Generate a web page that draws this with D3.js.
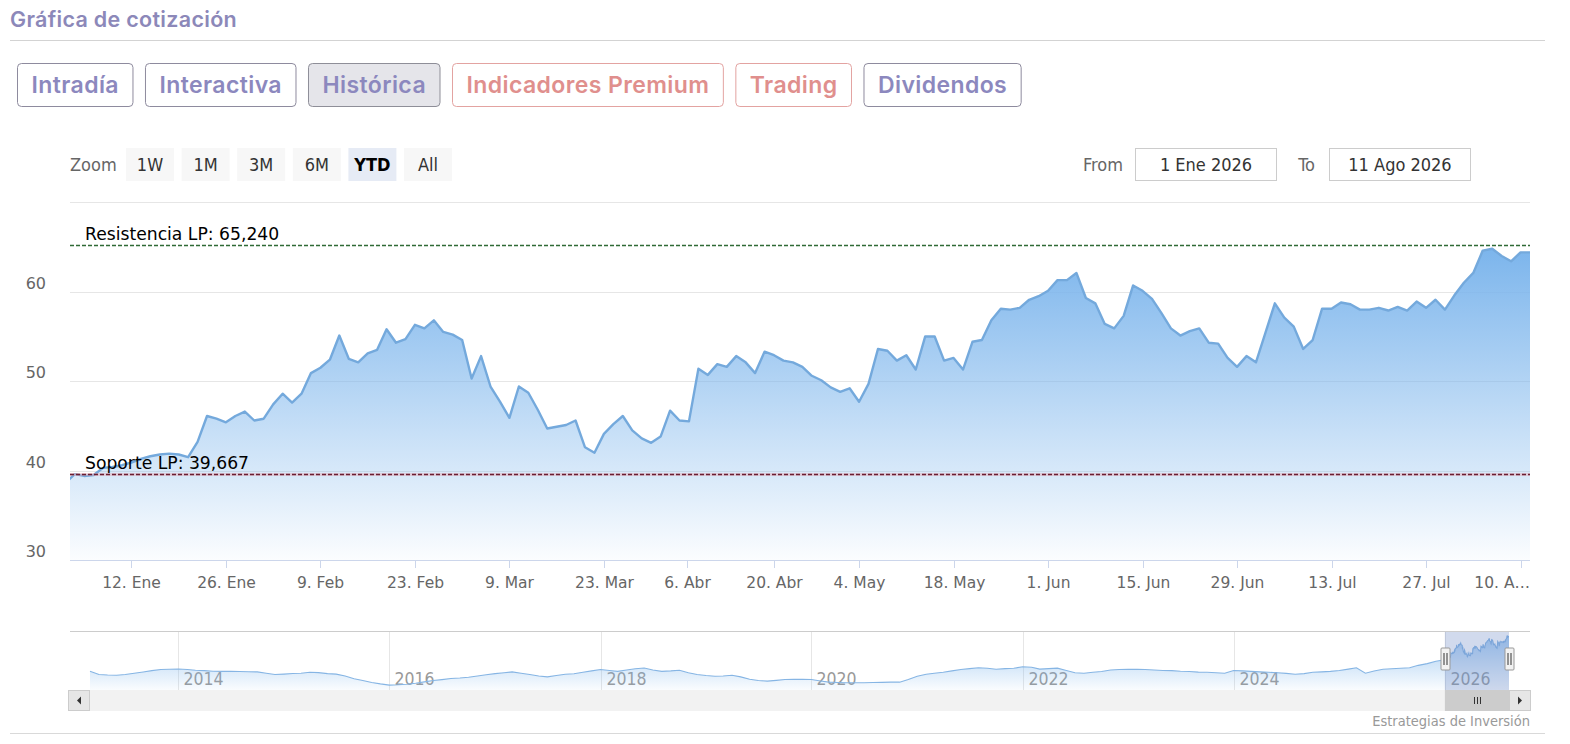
<!DOCTYPE html>
<html><head><meta charset="utf-8">
<script src="https://cdn.jsdelivr.net/npm/d3@7"></script>
<style>
body{margin:0;background:#fff;}
svg{display:block;}
</style></head><body>
<svg id="c" width="1570" height="744"></svg>
<script>
// ---------------- data ----------------
const pageTitle = "Gráfica de cotización";
const tabLabels = ["Intradía","Interactiva","Histórica","Indicadores Premium","Trading","Dividendos"];
const tabKinds  = ["main","main","active","premium","premium","main"];
const zoomButtons = ["1W","1M","3M","6M","YTD","All"];
const zoomSelected = "YTD";
const rangeFrom = "1 Ene 2026";
const rangeTo = "11 Ago 2026";

// trading calendar of the visible range
const firstDay = "2025-12-31";
const lastDay = "2026-08-11";
const rangeStart = "2026-01-01";
const holidays = ["2026-01-01","2026-04-03","2026-04-06","2026-05-01"];

// daily closes, 31 Dic 2025 .. 11 Ago 2026
const closes = [38.6,
 39.6,39.4,39.5,40.3,40.4,40.6,40.9,41.3,41.6,41.8,
 41.9,41.8,41.5,43.2,46.1,45.8,45.4,46.1,46.6,45.6,
 45.8,47.4,48.6,47.6,48.6,50.9,51.5,52.4,55.1,52.5,
 52.1,53.1,53.5,55.8,54.3,54.7,56.3,55.9,56.8,55.5,
 55.2,54.6,50.3,52.8,49.4,47.7,45.9,49.4,48.7,46.8,
 44.7,44.9,45.1,45.6,42.6,42.0,44.1,45.2,46.1,44.5,
 43.6,43.1,43.8,46.7,45.6,45.5,51.4,50.7,51.9,51.6,
 52.8,52.1,50.9,53.3,52.9,52.3,52.1,51.6,50.6,50.1,
 49.3,48.8,49.2,47.7,49.7,53.6,53.4,52.3,52.9,51.3,
 55.0,55.0,52.3,52.6,51.3,54.4,54.6,56.8,58.1,58.0,
 58.2,59.1,59.5,60.1,61.3,61.3,62.1,59.3,58.7,56.4,
 55.9,57.3,60.7,60.1,59.2,57.6,55.9,55.1,55.6,55.9,
 54.3,54.2,52.6,51.6,52.8,52.1,55.4,58.7,57.1,56.1,
 53.6,54.6,58.1,58.1,58.8,58.6,58.0,58.0,58.2,57.9,
 58.3,57.9,58.9,58.2,59.1,58.0,59.6,61.0,62.1,64.6,
 64.8,64.0,63.4,64.4,64.4];

const yTicks = [30,40,50,60,70];
const tickDates = ["2026-01-12","2026-01-26","2026-02-09","2026-02-23","2026-03-09","2026-03-23",
  "2026-04-06","2026-04-20","2026-05-04","2026-05-18","2026-06-01","2026-06-15","2026-06-29",
  "2026-07-13","2026-07-27","2026-08-10"];
const tickLabels = ["12. Ene","26. Ene","9. Feb","23. Feb","9. Mar","23. Mar","6. Abr","20. Abr",
  "4. May","18. May","1. Jun","15. Jun","29. Jun","13. Jul","27. Jul","10. A…"];

const levelNames = ["Resistencia LP","Soporte LP"];
const levelValues = [65.240, 39.667];
const levelColors = ["#2f6a35","#6a1f33"];

// navigator: monthly history Mar 2013 .. Dic 2025, then the daily closes above
const navHistoryStart = "2013-03-01";
const navHistory = [
 26.1,22.6,22.0,21.8,22.5,24.0,25.4,26.8,28.0,28.3,
 28.6,28.0,27.2,26.8,26.1,26.0,26.1,25.8,25.6,25.4,24.0,22.6,
 23.0,23.6,24.0,25.0,24.6,23.5,23.0,21.0,18.0,16.0,13.8,12.3,
 11.0,11.3,11.9,13.0,14.5,16.0,17.0,18.2,18.8,19.6,21.0,22.3,
 23.5,24.5,25.4,24.0,22.6,21.0,20.0,21.5,22.8,23.4,25.0,26.5,
 28.0,27.0,26.0,27.5,28.8,29.7,27.5,26.0,26.5,27.2,24.5,22.6,
 21.5,20.7,21.0,21.8,20.0,17.3,16.0,15.3,16.2,17.1,17.3,17.2,
 17.1,15.5,14.2,13.8,13.6,13.5,13.5,13.8,14.0,14.2,14.2,17.0,
 20.7,22.8,24.0,25.0,26.5,28.0,29.0,30.0,29.5,28.3,29.0,29.4,
 31.0,30.5,28.5,29.0,29.5,27.0,24.5,24.0,25.0,25.8,27.5,28.0,
 28.3,28.2,28.0,27.5,27.0,26.8,26.2,25.8,25.2,25.0,24.5,24.0,
 27.0,26.5,26.0,25.5,25.0,24.5,23.8,22.8,23.5,25.0,25.5,26.0,
 27.0,28.5,30.0,24.0,26.5,28.3,28.8,29.5,30.0,32.6,34.5,37.0];
const navYears = [2014,2016,2018,2020,2022,2024,2026];
const credit = "Estrategias de Inversión";

// ---------------- helpers ----------------
const parse = d3.utcParse("%Y-%m-%d");
const fmtKey = d3.utcFormat("%Y-%m-%d");
const holidaySet = new Set(holidays);
const tradingDays = d3.utcDays(parse(firstDay), d3.utcDay.offset(parse(lastDay), 1))
  .filter(d => d.getUTCDay() !== 0 && d.getUTCDay() !== 6 && !holidaySet.has(fmtKey(d)));
const series = tradingDays.map((d, i) => ({date: d, value: closes[i]}));
const times = tradingDays.map(d => +d);
function ordinal(date) {
  const t = +date;
  const i = d3.bisectRight(times, t);
  if (i <= 0) return 0;
  if (i >= times.length) return times.length - 1;
  const a = times[i-1], b = times[i];
  return (i - 1) + (t - a) / (b - a);
}
const esLocale = d3.formatLocale({decimal: ",", thousands: ".", grouping: [3], currency: ["", "€"]});
const fmtLevel = esLocale.format(".3f");

const CHART_FONT = "'DejaVu Sans', Verdana, sans-serif";
const COND_FONT = "'DejaVu Sans Condensed', 'DejaVu Sans', sans-serif";
const UI_FONT = "Inter, 'Open Sans', sans-serif";

const svg = d3.select("#c");
const defs = svg.append("defs");

// ---------------- header ----------------
svg.append("text").attr("x", 10).attr("y", 27)
  .attr("font-family", UI_FONT).attr("font-weight", 600).attr("font-size", 21.5)
  .attr("letter-spacing", 0.3).attr("fill", "#8c88b9").text(pageTitle);
svg.append("line").attr("x1", 10).attr("x2", 1545).attr("y1", 40.5).attr("y2", 40.5)
  .attr("stroke", "#d3d3d3");

const tabStyle = {
  main:    {fill: "#ffffff", stroke: "#8e8b9e", text: "#8c88be"},
  active:  {fill: "#e5e5ea", stroke: "#8e8e98", text: "#8c88be"},
  premium: {fill: "#ffffff", stroke: "#e3a3a1", text: "#e08f8d"}
};
let tx = 17.5;
tabLabels.forEach((lab, i) => {
  const st = tabStyle[tabKinds[i]];
  const g = svg.append("g");
  const rect = g.append("rect");
  const t = g.append("text").attr("font-family", UI_FONT).attr("font-weight", 600)
    .attr("font-size", 23).attr("letter-spacing", 0.4).attr("fill", st.text).attr("y", 93).text(lab);
  const w = t.node().getComputedTextLength() + 28;
  rect.attr("x", tx).attr("y", 63.5).attr("width", w).attr("height", 43).attr("rx", 4)
    .attr("fill", st.fill).attr("stroke", st.stroke);
  t.attr("x", tx + w / 2).attr("text-anchor", "middle");
  tx += w + 12.5;
});

// ---------------- range selector ----------------
svg.append("text").attr("x", 70).attr("y", 171).attr("font-family", COND_FONT)
  .attr("font-size", 18).attr("fill", "#666").text("Zoom");
zoomButtons.forEach((b, i) => {
  const x = 126 + i * 55.6;
  const sel = b === zoomSelected;
  svg.append("rect").attr("x", x).attr("y", 148).attr("width", 48).attr("height", 33)
    .attr("fill", sel ? "#e6ebf5" : "#f7f7f7");
  svg.append("text").attr("x", x + 24).attr("y", 171).attr("text-anchor", "middle")
    .attr("font-family", COND_FONT).attr("font-size", 18)
    .attr("font-weight", sel ? "bold" : "normal").attr("fill", sel ? "#000" : "#333").text(b);
});
[["From", rangeFrom, 1123, 1135.5], ["To", rangeTo, 1315, 1329.5]].forEach(([lab, val, lx, bx]) => {
  svg.append("text").attr("x", lx).attr("y", 171).attr("text-anchor", "end")
    .attr("font-family", COND_FONT).attr("font-size", 18).attr("fill", "#666").text(lab);
  svg.append("rect").attr("x", bx).attr("y", 148.5).attr("width", 141).attr("height", 32)
    .attr("fill", "#fff").attr("stroke", "#cccccc");
  svg.append("text").attr("x", bx + 70.5).attr("y", 171).attr("text-anchor", "middle")
    .attr("font-family", COND_FONT).attr("font-size", 18).attr("fill", "#333").text(val);
});

// ---------------- main chart ----------------
const plot = {left: 70, right: 1530, top: 202.3, bottom: 560};
const x = d3.scaleLinear().domain([ordinal(parse(rangeStart)), series.length - 1])
  .range([plot.left, plot.right]);
const y = d3.scaleLinear().domain([yTicks[0], yTicks[yTicks.length - 1]])
  .range([plot.bottom, plot.top]);

defs.append("clipPath").attr("id", "plotClip").append("rect")
  .attr("x", plot.left).attr("y", plot.top - 5).attr("width", plot.right - plot.left)
  .attr("height", plot.bottom - plot.top + 5);

// grid
svg.append("g").selectAll("line").data(yTicks.slice(1)).join("line")
  .attr("x1", plot.left).attr("x2", plot.right)
  .attr("y1", d => Math.round(y(d)) + 0.5).attr("y2", d => Math.round(y(d)) + 0.5)
  .attr("stroke", "#e6e6e6");

// area gradient
const maxY = y(d3.max(closes));
const grad = defs.append("linearGradient").attr("id", "areaGrad")
  .attr("gradientUnits", "userSpaceOnUse").attr("x1", 0).attr("x2", 0)
  .attr("y1", maxY).attr("y2", plot.bottom);
grad.append("stop").attr("offset", 0).attr("stop-color", "#7cb5ec").attr("stop-opacity", 1);
grad.append("stop").attr("offset", 1).attr("stop-color", "#7cb5ec").attr("stop-opacity", 0.03);

const gPlot = svg.append("g").attr("clip-path", "url(#plotClip)");
gPlot.append("path").datum(series)
  .attr("d", d3.area().x((d, i) => x(i)).y0(plot.bottom).y1(d => y(d.value)))
  .attr("fill", "url(#areaGrad)");
gPlot.append("path").datum(series)
  .attr("d", d3.line().x((d, i) => x(i)).y(d => y(d.value)))
  .attr("fill", "none").attr("stroke", "#74a9dc").attr("stroke-width", 2.4)
  .attr("stroke-linejoin", "round");

// x axis
svg.append("line").attr("x1", plot.left).attr("x2", plot.right)
  .attr("y1", plot.bottom + 0.5).attr("y2", plot.bottom + 0.5).attr("stroke", "#ccd6eb");
const xAxisG = svg.append("g");
tickDates.forEach((ds, i) => {
  const px = Math.round(x(ordinal(parse(ds)))) + 0.5;
  xAxisG.append("line").attr("x1", px).attr("x2", px).attr("y1", plot.bottom)
    .attr("y2", plot.bottom + 8).attr("stroke", "#ccd6eb");
  const t = xAxisG.append("text").attr("x", px).attr("y", 588).attr("text-anchor", "middle")
    .attr("font-family", CHART_FONT).attr("font-size", 15.5).attr("fill", "#666").text(tickLabels[i]);
  const w = t.node().getComputedTextLength();
  if (px + w / 2 > plot.right) t.attr("text-anchor", "end").attr("x", plot.right);
});

// y axis labels
svg.append("g").selectAll("text").data(yTicks.slice(0, -1)).join("text")
  .attr("x", 46).attr("y", d => y(d) - 3).attr("text-anchor", "end")
  .attr("font-family", CHART_FONT).attr("font-size", 16).attr("fill", "#666").text(d => d);

// plot lines (support / resistance)
levelValues.forEach((v, i) => {
  const py = Math.round(y(v)) + 0.5;
  if (i === 1) {
    svg.append("line").attr("x1", plot.left).attr("x2", plot.right).attr("y1", py).attr("y2", py)
      .attr("stroke", "#e7a3b0").attr("stroke-width", 3).attr("stroke-opacity", 0.45);
  }
  svg.append("line").attr("x1", plot.left).attr("x2", plot.right).attr("y1", py).attr("y2", py)
    .attr("stroke", levelColors[i]).attr("stroke-width", 1.4).attr("stroke-dasharray", "4,2");
  svg.append("text").attr("x", 85).attr("y", py - 5.5)
    .attr("font-family", CHART_FONT).attr("font-size", 17.2).attr("fill", "#000")
    .text(levelNames[i] + ": " + fmtLevel(v));
});

// ---------------- navigator ----------------
const nav = {left: 90, right: 1509, top: 631, bottom: 690};
const histDates = navHistory.map((v, i) => d3.utcMonth.offset(parse(navHistoryStart), i));
const navData = histDates.map((d, i) => ({date: d, value: navHistory[i]})).concat(series);
const nx = d3.scaleUtc().domain([parse(navHistoryStart), parse(lastDay)]).range([nav.left, nav.right]);
const nExt = d3.extent(navData, d => d.value);
const nPad = (nExt[1] - nExt[0]) * 0.1;
const ny = d3.scaleLinear().domain([nExt[0] - nPad, nExt[1] + nPad]).range([nav.bottom, nav.top]);

// year grid
navYears.forEach(yr => {
  const px = Math.round(nx(Date.UTC(yr, 0, 1))) + 0.5;
  svg.append("line").attr("x1", px).attr("x2", px).attr("y1", nav.top).attr("y2", nav.bottom)
    .attr("stroke", "#e6e6e6");
  svg.append("text").attr("x", px + 5).attr("y", 685).attr("font-family", COND_FONT)
    .attr("font-size", 17.5).attr("fill", "#999").text(yr);
});
const ngrad = defs.append("linearGradient").attr("id", "navGrad")
  .attr("gradientUnits", "userSpaceOnUse").attr("x1", 0).attr("x2", 0)
  .attr("y1", nav.top).attr("y2", nav.bottom);
ngrad.append("stop").attr("offset", 0).attr("stop-color", "#7cb5ec").attr("stop-opacity", 0.75);
ngrad.append("stop").attr("offset", 1).attr("stop-color", "#7cb5ec").attr("stop-opacity", 0.04);
svg.append("path").datum(navData)
  .attr("d", d3.area().x(d => nx(d.date)).y0(nav.bottom).y1(d => ny(d.value)))
  .attr("fill", "url(#navGrad)");
svg.append("path").datum(navData)
  .attr("d", d3.line().x(d => nx(d.date)).y(d => ny(d.value)))
  .attr("fill", "none").attr("stroke", "#86b5e4").attr("stroke-width", 1.1);

const selL = nx(parse(rangeStart)), selR = nx(parse(lastDay));
svg.append("rect").attr("x", selL).attr("y", nav.top).attr("width", selR - selL)
  .attr("height", nav.bottom - nav.top).attr("fill", "rgba(102,133,194,0.3)");
// outline
svg.append("path").attr("d", `M${plot.left},${nav.top + 0.5}H${plot.right}`)
  .attr("stroke", "#cccccc").attr("fill", "none");
// handles
[selL, selR].forEach(hx => {
  const g = svg.append("g").attr("transform", `translate(${Math.round(hx) + 0.5},648)`);
  g.append("rect").attr("x", -4.5).attr("y", 0).attr("width", 9).attr("height", 22).attr("rx", 1)
    .attr("fill", "#f2f2f2").attr("stroke", "#999");
  g.append("line").attr("x1", -1.5).attr("x2", -1.5).attr("y1", 5).attr("y2", 17).attr("stroke", "#333");
  g.append("line").attr("x1", 1.5).attr("x2", 1.5).attr("y1", 5).attr("y2", 17).attr("stroke", "#333");
});

// scrollbar
const sb = {top: 690, h: 21};
svg.append("rect").attr("x", 68).attr("y", sb.top).attr("width", 1530 - 68).attr("height", sb.h)
  .attr("fill", "#f2f2f2");
svg.append("rect").attr("x", selL).attr("y", sb.top).attr("width", selR - selL).attr("height", sb.h)
  .attr("fill", "#cccccc");
const midT = (selL + selR) / 2;
[-3, 0, 3].forEach(o => svg.append("line").attr("x1", Math.round(midT + o) + 0.5)
  .attr("x2", Math.round(midT + o) + 0.5).attr("y1", sb.top + 7).attr("y2", sb.top + 14)
  .attr("stroke", "#333"));
[[68.5, -1], [1509.5, 1]].forEach(([bx, dir]) => {
  svg.append("rect").attr("x", bx).attr("y", sb.top + 0.5).attr("width", 21).attr("height", sb.h - 1)
    .attr("fill", "#e6e6e6").attr("stroke", "#cccccc");
  const cx = bx + 10.5, cy = sb.top + 10.5;
  svg.append("path").attr("d", dir < 0
      ? `M${cx + 2},${cy - 4}L${cx - 2},${cy}L${cx + 2},${cy + 4}Z`
      : `M${cx - 2},${cy - 4}L${cx + 2},${cy}L${cx - 2},${cy + 4}Z`)
    .attr("fill", "#333");
});

// credits and footer line
svg.append("text").attr("x", 1530).attr("y", 726).attr("text-anchor", "end")
  .attr("font-family", COND_FONT).attr("font-size", 14.5).attr("fill", "#999").text(credit);
svg.append("line").attr("x1", 10).attr("x2", 1545).attr("y1", 733.5).attr("y2", 733.5)
  .attr("stroke", "#d9d9d9");
</script>
</body></html>
